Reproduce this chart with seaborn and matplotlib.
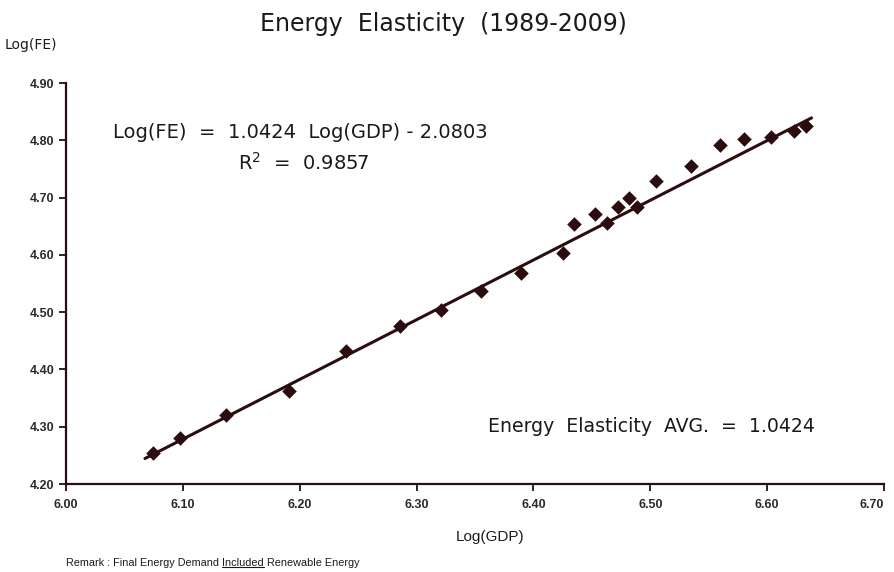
import numpy as np
import pandas as pd
import matplotlib.pyplot as plt
import seaborn as sns
from matplotlib.lines import Line2D

# data
log_gdp = [6.0746, 6.0977, 6.137, 6.1905, 6.240, 6.2856, 6.3205, 6.3548, 6.389,
           6.4256, 6.4347, 6.453, 6.463, 6.4725, 6.482, 6.489, 6.505, 6.535,
           6.560, 6.580, 6.603, 6.623, 6.633]
log_fe = [4.255, 4.280, 4.320, 4.362, 4.433, 4.476, 4.504, 4.537, 4.568,
          4.604, 4.654, 4.671, 4.655, 4.683, 4.700, 4.684, 4.729, 4.756,
          4.792, 4.802, 4.805, 4.817, 4.825]
slope = 1.0424
intercept = -2.0803
x_ticks = [6.00, 6.10, 6.20, 6.30, 6.40, 6.50, 6.60, 6.70]
y_ticks = [4.20, 4.30, 4.40, 4.50, 4.60, 4.70, 4.80, 4.90]

df = pd.DataFrame({'gdp': log_gdp, 'fe': log_fe})
fit_x = np.array([df['gdp'].min() - 0.007, df['gdp'].max() + 0.005])
fit = pd.DataFrame({'gdp': fit_x, 'fe': slope * fit_x + intercept})

sns.set_theme(style='ticks')
plt.rcParams['font.family'] = ['DejaVu Sans']
ink = '#2b0d10'
txt = '#1a1a1a'
narrow = ['Liberation Sans Narrow', 'Liberation Sans', 'DejaVu Sans']

fig = plt.figure(figsize=(8.95, 5.72), dpi=100)
ax = fig.add_axes([0.0737, 0.1538, 0.914, 0.701])

sns.lineplot(data=fit, x='gdp', y='fe', ax=ax, color=ink, linewidth=2.2)
sns.scatterplot(data=df, x='gdp', y='fe', ax=ax, marker='D', s=55,
                color=ink, edgecolor=ink, linewidth=0, zorder=3)

ax.set_xlim(6.0, 6.7)
ax.set_ylim(4.2, 4.9)
ax.set_xticks(x_ticks)
ax.set_yticks(y_ticks)
ax.set_xticklabels([f'{v:.2f}' for v in x_ticks])
ax.set_yticklabels([f'{v:.2f}' for v in y_ticks])
for lab in ax.get_xticklabels() + ax.get_yticklabels():
    lab.set_family(narrow)
    lab.set_fontweight('bold')
    lab.set_fontsize(9)
    lab.set_color('#2a2a2a')
ax.tick_params(axis='both', direction='out', length=5, width=1.3, color=ink)
ax.tick_params(axis='x', pad=6)
# keep the last x label inside the figure
ax.get_xticklabels()[-1].set_horizontalalignment('right')
ax.get_xticklabels()[-1].set_x(6.7 + 0.009)
sns.despine(ax=ax)
for side in ['left', 'bottom']:
    ax.spines[side].set_color(ink)
    ax.spines[side].set_linewidth(1.6)
ax.set_xlabel('')
ax.set_ylabel('')

fig.text(0.495, 0.958, 'Energy  Elasticity  (1989-2009)', ha='center', va='center',
         fontsize=17, color=txt)
fig.text(0.005, 0.921, 'Log(FE)', ha='left', va='center', fontsize=10, color=txt)
fig.text(0.548, 0.061, 'Log(GDP)', ha='center', va='center', fontsize=11,
         family=narrow, color=txt)

ax.text(6.040, 4.814, 'Log(FE)  =  1.0424  Log(GDP) - 2.0803', fontsize=14,
        ha='left', va='center', color=txt)
ax.text(6.147, 4.760, 'R$^2$  =  0.9857', fontsize=14, ha='left', va='center',
        color=txt, math_fontfamily='dejavusans')
ax.text(6.361, 4.301, 'Energy  Elasticity  AVG.  =  1.0424', fontsize=13.6,
        ha='left', va='center', color=txt)

# remark line with underlined word
fig.canvas.draw()
renderer = fig.canvas.get_renderer()
x0 = 66 / 895
y0 = 1 - 563 / 572
parts = ['Remark : Final Energy Demand ', 'Included', ' Renewable Energy']
for i, part in enumerate(parts):
    t = fig.text(x0, y0, part, ha='left', va='center', fontsize=7.8,
                 family=narrow, color=txt)
    bb = t.get_window_extent(renderer).transformed(fig.transFigure.inverted())
    if i == 1:
        fig.add_artist(Line2D([bb.x0, bb.x1], [bb.y0 + 0.001, bb.y0 + 0.001],
                              color=txt, linewidth=0.8, transform=fig.transFigure))
    x0 = bb.x1

plt.savefig('out.png', dpi=100)
